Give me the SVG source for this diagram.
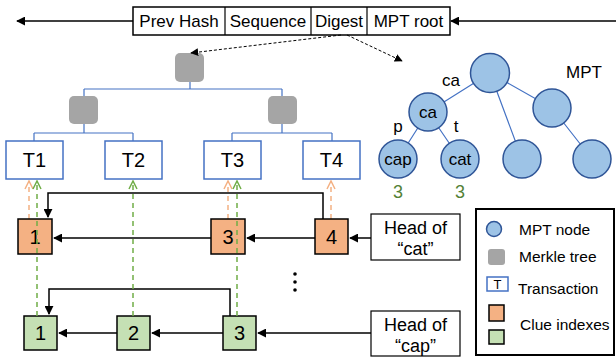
<svg xmlns="http://www.w3.org/2000/svg" width="616" height="357" viewBox="0 0 616 357">
<defs>
<marker id="ah" viewBox="0 0 10 10" refX="9" refY="5" markerWidth="9" markerHeight="9" markerUnits="userSpaceOnUse" orient="auto"><path d="M0,0 L10,5 L0,10 z" fill="#000"/></marker>
<marker id="ahs" viewBox="0 0 10 10" refX="9" refY="5" markerWidth="8" markerHeight="8" markerUnits="userSpaceOnUse" orient="auto"><path d="M0,0 L10,5 L0,10 z" fill="#000"/></marker>
<marker id="vo" viewBox="0 0 10 10" refX="9" refY="5" markerWidth="10" markerHeight="10" markerUnits="userSpaceOnUse" orient="auto"><path d="M1,1 L9,5 L1,9" fill="none" stroke="#F4B183" stroke-width="1.5"/></marker>
<marker id="vg" viewBox="0 0 10 10" refX="9" refY="5" markerWidth="10" markerHeight="10" markerUnits="userSpaceOnUse" orient="auto"><path d="M1,1 L9,5 L1,9" fill="none" stroke="#70AD47" stroke-width="1.5"/></marker>
</defs>
<style>
text{font-family:"Liberation Sans",Arial,sans-serif;fill:#000}
.hdr{font-size:17px}
.tb{fill:#fff;stroke:#4472C4;stroke-width:1.5}
.tt{font-size:20px;text-anchor:middle}
.mk{fill:#A5A5A5}
.tree{stroke:#4472C4;stroke-width:1.2;fill:none}
.mpt{fill:#9DC3E6;stroke:#2F5597;stroke-width:1.5}
.ml{font-size:17px;text-anchor:middle}
.or{fill:#F4B183;stroke:#000;stroke-width:1.5}
.gr{fill:#C5E0B4;stroke:#000;stroke-width:1.5}
.num{font-size:20px;text-anchor:middle}
.blk{stroke:#000;stroke-width:1.5;fill:none}
.dsh{stroke:#000;stroke-width:1;fill:none;stroke-dasharray:3,2}
.od{stroke:#F4B183;stroke-width:1.5;stroke-dasharray:5,4;fill:none}
.gd{stroke:#70AD47;stroke-width:1.5;stroke-dasharray:5,4;fill:none}
.hb{fill:#fff;stroke:#000;stroke-width:1.2}
.ht{font-size:18px;text-anchor:middle}
.lg{font-size:15.5px}
</style>

<g id="header">
<rect x="133" y="7" width="317" height="28" fill="#fff" stroke="#000" stroke-width="1.5"/>
<line x1="225" y1="7" x2="225" y2="35" stroke="#000" stroke-width="1.2"/>
<line x1="311" y1="7" x2="311" y2="35" stroke="#000" stroke-width="1.2"/>
<line x1="367" y1="7" x2="367" y2="35" stroke="#000" stroke-width="1.2"/>
<text class="hdr" x="179" y="27" text-anchor="middle">Prev Hash</text>
<text class="hdr" x="268" y="27" text-anchor="middle">Sequence</text>
<text class="hdr" x="339" y="27" text-anchor="middle">Digest</text>
<text class="hdr" x="408.5" y="27" text-anchor="middle">MPT root</text>
</g>

<g id="merkle-tree">
<path class="tree" d="M190,82 V89 M84,89 H282 M84,89 V96 M282,89 V96 M84,124 V133 M34,133 H133 M34,133 V141 M133,133 V141 M282,124 V133 M232,133 H332 M232,133 V141 M332,133 V141"/>
<rect id="m-root" class="mk" x="175" y="53" width="29" height="29" rx="5"/>
<rect id="m-left" class="mk" x="69" y="96" width="29" height="28" rx="5"/>
<rect id="m-right" class="mk" x="268" y="96" width="29" height="28" rx="5"/>
</g>

<g id="T1"><rect class="tb" x="6" y="141" width="57" height="38"/><text class="tt" x="34.5" y="167">T1</text></g>
<g id="T2"><rect class="tb" x="105" y="141" width="57" height="38"/><text class="tt" x="133.5" y="167">T2</text></g>
<g id="T3"><rect class="tb" x="204" y="141" width="57" height="38"/><text class="tt" x="232.5" y="167">T3</text></g>
<g id="T4"><rect class="tb" x="303" y="141" width="57" height="38"/><text class="tt" x="331.5" y="167">T4</text></g>

<g id="mpt">
<path class="tree" d="M490,73 L428,112 M490,73 L522,159 M490,73 L552,108 M552,108 L592,159 M428,112 L398,159 M428,112 L460,159"/>
<circle class="mpt" cx="490" cy="73" r="19.5"/>
<circle class="mpt" cx="428" cy="112" r="19"/>
<circle class="mpt" cx="552" cy="108" r="19"/>
<circle class="mpt" cx="398" cy="159" r="19"/>
<circle class="mpt" cx="460" cy="159" r="19"/>
<circle class="mpt" cx="522" cy="159" r="19"/>
<circle class="mpt" cx="592" cy="159" r="19"/>
<text class="ml" x="428" y="118">ca</text>
<text class="ml" x="398" y="165">cap</text>
<text class="ml" x="460" y="165">cat</text>
<text class="ml" x="451" y="86">ca</text>
<text class="ml" x="584" y="78">MPT</text>
<text class="ml" x="398" y="132">p</text>
<text class="ml" x="456" y="132">t</text>
<text class="ml" x="398" y="198" style="fill:#538135;font-size:18px">3</text>
<text class="ml" x="460" y="198" style="fill:#538135;font-size:18px">3</text>
</g>

<g id="connectors">
<line class="blk" x1="133" y1="21" x2="17" y2="21" marker-end="url(#ah)"/>
<line class="blk" x1="616" y1="21" x2="451" y2="21" marker-end="url(#ah)"/>
<line class="dsh" x1="341" y1="35" x2="191" y2="53" marker-end="url(#ahs)"/>
<line class="dsh" x1="347" y1="35" x2="402" y2="61" marker-end="url(#ahs)"/>
<line class="od" x1="29" y1="219" x2="29" y2="181" marker-end="url(#vo)"/>
<line class="od" x1="228" y1="219" x2="228" y2="181" marker-end="url(#vo)"/>
<line class="od" x1="331" y1="219" x2="331" y2="181" marker-end="url(#vo)"/>
<path class="blk" d="M323,219 V193 H48 V217" marker-end="url(#ah)"/>
<line class="blk" x1="211" y1="238" x2="54" y2="238" marker-end="url(#ah)"/>
<line class="blk" x1="315" y1="238" x2="247" y2="238" marker-end="url(#ah)"/>
<line class="blk" x1="371" y1="238" x2="350" y2="238" marker-end="url(#ah)"/>
<path class="blk" d="M230,316 V289 H49 V314" marker-end="url(#ah)"/>
<line class="blk" x1="117" y1="333" x2="59" y2="333" marker-end="url(#ah)"/>
<line class="blk" x1="223" y1="333" x2="152" y2="333" marker-end="url(#ah)"/>
<line class="blk" x1="371" y1="333" x2="258" y2="333" marker-end="url(#ah)"/>
</g>

<g id="clue-cat">
<g id="o1"><rect class="or" x="18" y="219" width="34" height="35"/><text class="num" x="35" y="244">1</text></g>
<g id="o3"><rect class="or" x="211" y="219" width="34" height="35"/><text class="num" x="228" y="244">3</text></g>
<g id="o4"><rect class="or" x="315" y="219" width="33" height="35"/><text class="num" x="331.5" y="244">4</text></g>
</g>

<g id="clue-cap">
<g id="g1"><rect class="gr" x="24" y="316" width="33" height="34"/><text class="num" x="40.5" y="340">1</text></g>
<g id="g2"><rect class="gr" x="117" y="316" width="33" height="34"/><text class="num" x="133.5" y="340">2</text></g>
<g id="g3"><rect class="gr" x="223" y="316" width="33" height="34"/><text class="num" x="239.5" y="340">3</text></g>
</g>

<g id="green-links">
<line class="gd" x1="37" y1="316" x2="37" y2="181" marker-end="url(#vg)"/>
<line class="gd" x1="133" y1="316" x2="133" y2="181" marker-end="url(#vg)"/>
<line class="gd" x1="237" y1="316" x2="237" y2="181" marker-end="url(#vg)"/>
</g>

<g id="dots">
<circle cx="295" cy="274" r="1.8"/>
<circle cx="295" cy="282" r="1.8"/>
<circle cx="295" cy="290" r="1.8"/>
</g>

<g id="head-cat"><rect class="hb" x="371" y="214" width="89" height="46"/><text class="ht" x="415.5" y="234">Head of</text><text class="ht" x="415.5" y="255">“cat”</text></g>
<g id="head-cap"><rect class="hb" x="371" y="311" width="89" height="45"/><text class="ht" x="415.5" y="331">Head of</text><text class="ht" x="415.5" y="352">“cap”</text></g>

<g id="legend">
<rect x="476" y="209" width="138" height="146" fill="#fff" stroke="#000" stroke-width="2"/>
<circle class="mpt" cx="494" cy="229" r="7.5"/>
<text class="lg" x="519" y="235">MPT node</text>
<rect class="mk" x="488" y="249" width="17" height="16" rx="3"/>
<text class="lg" x="519" y="262">Merkle tree</text>
<rect class="tb" x="487" y="277" width="21" height="14"/>
<text x="497.5" y="289" style="font-size:13px;text-anchor:middle">T</text>
<text class="lg" x="518" y="294">Transaction</text>
<rect class="or" x="489" y="305" width="15" height="16"/>
<rect class="gr" x="489" y="330" width="15" height="14"/>
<text class="lg" x="520" y="330">Clue indexes</text>
</g>
</svg>
